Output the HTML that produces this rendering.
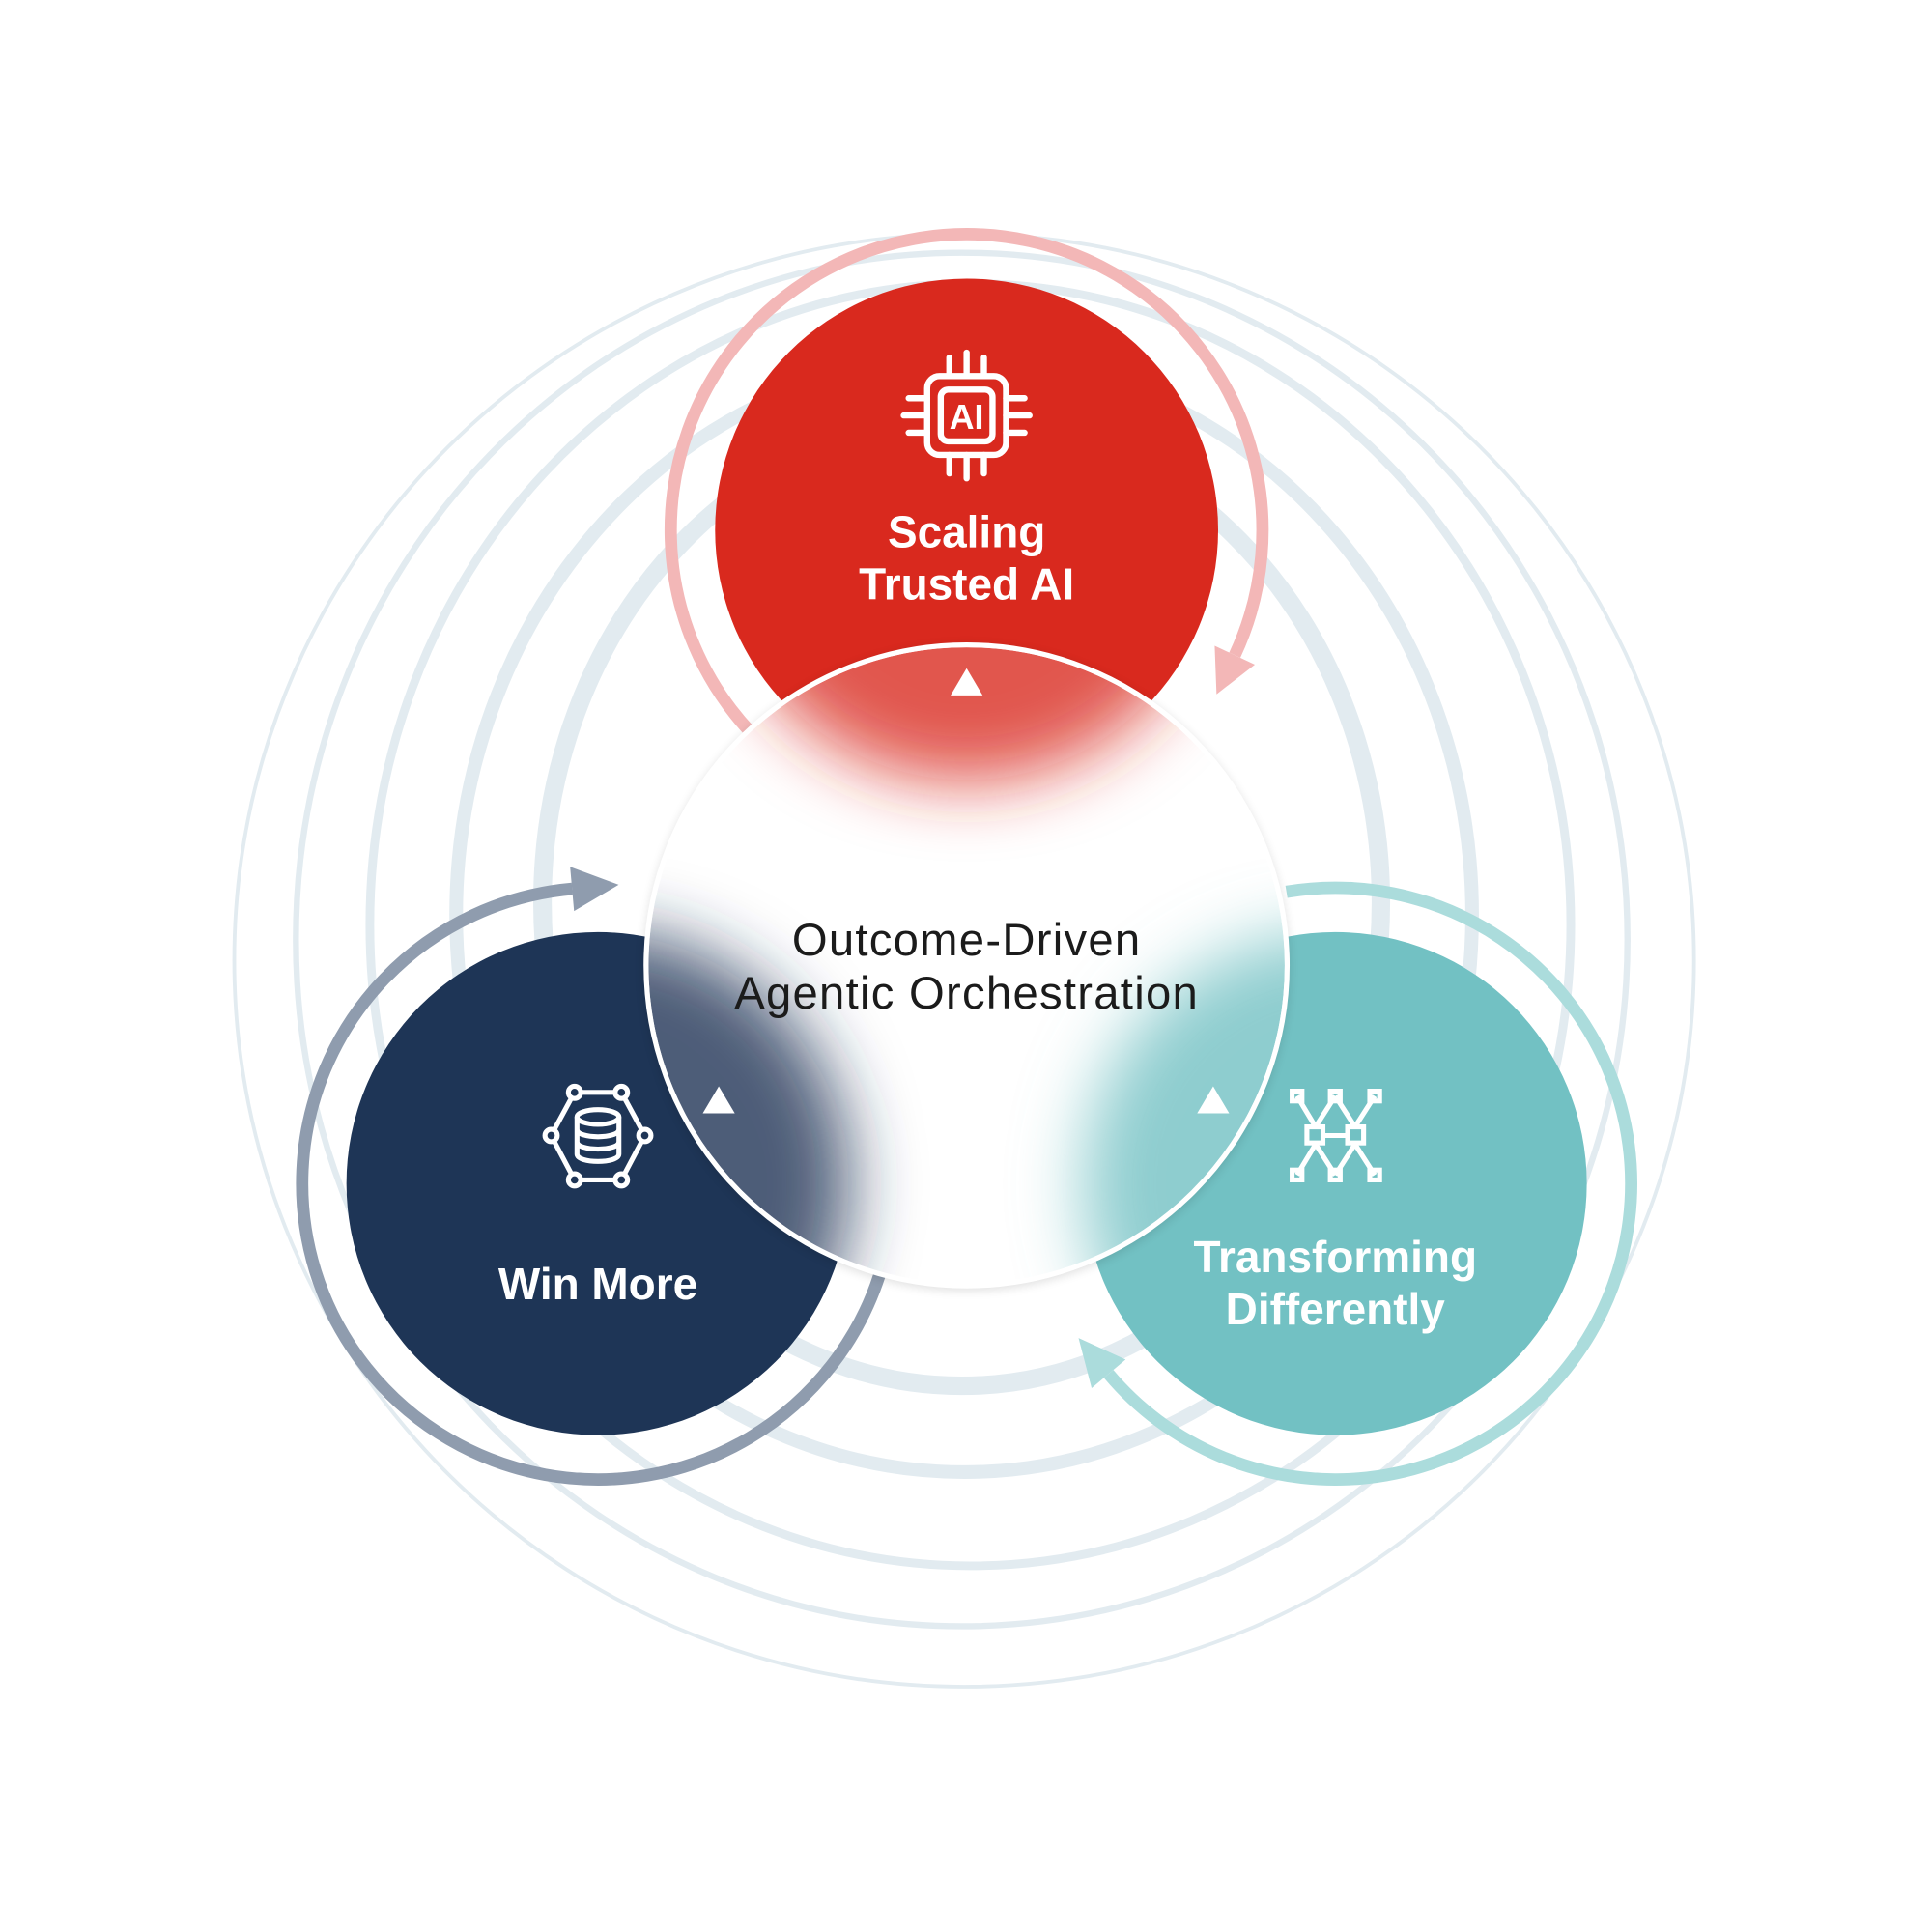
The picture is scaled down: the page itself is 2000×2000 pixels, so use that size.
<!DOCTYPE html>
<html><head><meta charset="utf-8"><style>
html,body{margin:0;padding:0;background:#fff;}
svg{display:block}
text{font-family:"Liberation Sans",sans-serif;}
</style></head><body>
<svg width="2000" height="2000" viewBox="0 0 1567 1567" xmlns="http://www.w3.org/2000/svg">
<defs>
<clipPath id="cc"><circle cx="784" cy="783" r="258"/></clipPath>
<filter id="bl" x="-50%" y="-50%" width="200%" height="200%"><feGaussianBlur stdDeviation="28"/></filter>
<filter id="sh" x="-20%" y="-20%" width="140%" height="140%"><feGaussianBlur stdDeviation="4"/></filter>
</defs>
<rect width="1567" height="1567" fill="#fff"/>
<g fill="none" stroke="#e2ebf0">
<ellipse cx="782" cy="779" rx="592" ry="589" stroke-width="3"/>
<ellipse cx="780" cy="762" rx="540" ry="557" stroke-width="5"/>
<ellipse cx="787" cy="750" rx="487" ry="520" stroke-width="7"/>
<ellipse cx="782" cy="742" rx="412" ry="452" stroke-width="11"/>
<ellipse cx="780" cy="732" rx="340" ry="392" stroke-width="15"/>
</g>
<g fill="none" stroke-width="10">
<path d="M608.5 593.7 A240 240 0 1 1 1001.5 531.4" stroke="#f3b7b7"/>
<path d="M713.3 1034.2 A240 240 0 1 1 464.1 720.9" stroke="#8f9cae"/>
<path d="M1043.4 723.3 A240 240 0 1 1 899.2 1114.3" stroke="#abdcdc"/>
</g>
<polygon points="1017.8,539 985.2,523.8 986.7,563.1" fill="#f3b7b7"/>
<polygon points="462.4,703 465.6,738.9 501.8,717.6" fill="#8f9cae"/>
<polygon points="885.4,1125.9 913,1102.7 874.8,1085.2" fill="#abdcdc"/>
<circle cx="784" cy="430" r="204" fill="#d9291e"/>
<circle cx="485" cy="960" r="204" fill="#1e3556"/>
<circle cx="1083" cy="960" r="204" fill="#72c1c3"/>
<circle cx="784" cy="785" r="262" fill="#000" opacity="0.12" filter="url(#sh)"/>
<circle cx="784" cy="783" r="260" fill="#fff"/>
<g clip-path="url(#cc)">
<g filter="url(#bl)">
<circle cx="784" cy="430" r="204" fill="#d9291e" opacity="0.8"/>
<circle cx="485" cy="960" r="204" fill="#1e3556" opacity="0.8"/>
<circle cx="1083" cy="960" r="204" fill="#72c1c3" opacity="0.8"/>
</g>
</g>
<circle cx="784" cy="783" r="260" fill="none" stroke="#fff" stroke-width="4"/>
<polygon points="784,542 771,564 797,564" fill="#fff"/>
<polygon points="583,881 570,903 596,903" fill="#fff"/>
<polygon points="984,881 971,903 997,903" fill="#fff"/>
<g fill="#fff" font-weight="bold" font-size="36" text-anchor="middle">
<text x="784" y="444">Scaling</text>
<text x="784" y="486">Trusted AI</text>
<text x="485" y="1054">Win More</text>
<text x="1083" y="1032">Transforming</text>
<text x="1083" y="1074">Differently</text>
</g>
<g fill="#1b1b1b" font-size="37" text-anchor="middle" letter-spacing="1">
<text x="784" y="775">Outcome-Driven</text>
<text x="784" y="818">Agentic Orchestration</text>
</g>
<g stroke="#fff" stroke-width="5" fill="none" stroke-linecap="round">
<rect x="752" y="305" width="64" height="64" rx="10"/>
<rect x="763" y="316" width="42" height="42" rx="6"/>
<path d="M770 290v15M784 286v19M798 290v15M770 369v15M784 369v19M798 369v15M737 323h15M733 337h19M737 351h15M816 323h15M816 337h19M816 351h15"/>
</g>
<text x="784" y="348" fill="#fff" font-size="28" font-weight="bold" text-anchor="middle">AI</text>
<g stroke="#fff" stroke-width="4" fill="none">
<polygon points="466,886 504,886 523,921 504,957 466,957 447,921"/>
<ellipse cx="485" cy="906" rx="17" ry="6"/>
<path d="M468 906v30c0 8 34 8 34 0v-30M468 916c0 8 34 8 34 0M468 926c0 8 34 8 34 0"/>
</g>
<g fill="#1e3556" stroke="#fff" stroke-width="4">
<circle cx="466" cy="886" r="5"/><circle cx="504" cy="886" r="5"/><circle cx="523" cy="921" r="5"/><circle cx="504" cy="957" r="5"/><circle cx="466" cy="957" r="5"/><circle cx="447" cy="921" r="5"/>
</g>
<g stroke="#fff" stroke-width="4" fill="none">
<path d="M1052 889L1067 914M1083 889L1067 914M1083 889L1099 914M1115 889L1099 914M1052 953L1067 928M1083 953L1067 928M1083 953L1099 928M1115 953L1099 928M1072 921h22"/>
<rect x="1048" y="885" width="8" height="8"/><rect x="1079" y="885" width="8" height="8"/><rect x="1111" y="885" width="8" height="8"/>
<rect x="1048" y="949" width="8" height="8"/><rect x="1079" y="949" width="8" height="8"/><rect x="1111" y="949" width="8" height="8"/>
<rect x="1060" y="914" width="13" height="13"/><rect x="1093" y="914" width="13" height="13"/>
</g>
</svg>
</body></html>
